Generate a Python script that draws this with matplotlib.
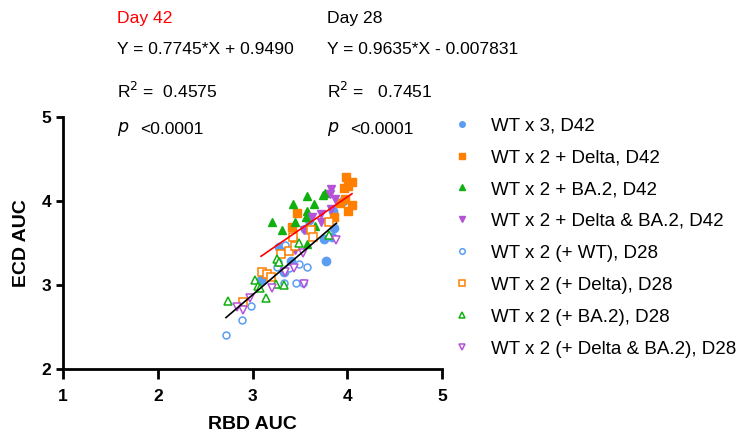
import numpy as np
import matplotlib
matplotlib.use('Agg')
import matplotlib.pyplot as plt
from matplotlib.lines import Line2D

plt.rcParams['font.family'] = ['Liberation Sans', 'DejaVu Sans']

# values (RBD AUC, ECD AUC)
wt3_d42_x = [3.09, 3.28, 3.33, 3.41, 3.55, 3.60, 3.75, 3.84, 3.85, 3.865, 3.78, 3.96]
wt3_d42_y = [3.06, 3.45, 3.16, 3.28, 3.67, 3.77, 3.55, 3.57, 3.88, 3.68, 3.28, 4.00]

delta_d42_x = [3.99, 4.05, 4.006, 3.963, 4.05, 4.006, 3.92, 3.98, 3.47, 3.42, 3.86]
delta_d42_y = [4.29, 4.23, 4.18, 4.15, 3.95, 3.88, 3.97, 4.02, 3.86, 3.69, 3.81]

ba2_d42_x = [3.206, 3.31, 3.43, 3.58, 3.65, 3.58, 3.445, 3.56, 3.66, 3.58, 3.76, 3.745]
ba2_d42_y = [3.754, 3.65, 3.96, 4.06, 3.96, 3.88, 3.754, 3.81, 3.70, 3.49, 4.10, 4.07]

dba_d42_x = [3.83, 3.82, 3.875, 3.63, 3.72, 3.72, 3.54, 3.43, 3.45, 3.83]
dba_d42_y = [4.14, 4.08, 4.02, 3.81, 3.85, 3.75, 3.66, 3.52, 3.42, 3.91]

wt_d28_x = [2.72, 2.89, 2.98, 3.26, 3.34, 3.39, 3.49, 3.58, 3.33, 3.46, 3.53, 3.27]
wt_d28_y = [2.41, 2.58, 2.75, 3.22, 3.48, 3.20, 3.25, 3.22, 3.03, 3.02, 3.02, 3.27]

delta_d28_x = [2.90, 3.10, 3.15, 3.20, 3.30, 3.39, 3.445, 3.43, 3.62, 3.64, 3.81]
delta_d28_y = [2.80, 3.15, 3.13, 3.10, 3.37, 3.40, 3.46, 3.57, 3.65, 3.57, 3.75]

ba2_d28_x = [2.74, 3.03, 3.06, 3.08, 3.14, 3.25, 3.26, 3.28, 3.33, 3.49, 3.81]
ba2_d28_y = [2.81, 3.06, 2.99, 2.97, 2.85, 3.01, 3.31, 3.27, 3.00, 3.50, 3.60]

dba_d28_x = [2.84, 2.90, 2.97, 3.21, 3.34, 3.44, 3.54, 3.885, 3.53]
dba_d28_y = [2.74, 2.70, 2.85, 2.97, 3.16, 3.20, 3.01, 3.54, 3.38]

labels = ['WT x 3, D42', 'WT x 2 + Delta, D42', 'WT x 2 + BA.2, D42',
          'WT x 2 + Delta & BA.2, D42', 'WT x 2 (+ WT), D28',
          'WT x 2 (+ Delta), D28', 'WT x 2 (+ BA.2), D28',
          'WT x 2 (+ Delta & BA.2), D28']

# fits (from the chart annotations)
slope42, icpt42 = 0.7745, 0.9490
slope28, icpt28 = 0.9635, -0.007831

blue = '#5b9df2'
orange = '#ff7f00'
green = '#10b010'
purple = '#b553d8'

fig = plt.figure(figsize=(7.46, 4.41), dpi=100)
ax = fig.add_axes([0.0845, 0.163, 0.508, 0.572])

groups = [
    (wt3_d42_x, wt3_d42_y, 'o', blue, True, 6),
    (delta_d42_x, delta_d42_y, 's', orange, True, 6),
    (ba2_d42_x, ba2_d42_y, '^', green, True, 6),
    (dba_d42_x, dba_d42_y, 'v', purple, True, 6),
    (wt_d28_x, wt_d28_y, 'o', blue, False, 5),
    (delta_d28_x, delta_d28_y, 's', orange, False, 5.5),
    (ba2_d28_x, ba2_d28_y, '^', green, False, 5.5),
    (dba_d28_x, dba_d28_y, 'v', purple, False, 5.5),
]

handles = []
for (x, y, m, c, filled, ms), lab in zip(groups, labels):
    if filled:
        ax.plot(x, y, ls='none', marker=m, ms=ms, color=c, mec=c, zorder=3)
        h = Line2D([], [], ls='none', marker=m, ms=4, color=c, mec=c)
    else:
        ax.plot(x, y, ls='none', marker=m, ms=ms, mfc='white', mec=c, mew=1.1, zorder=3)
        h = Line2D([], [], ls='none', marker=m, ms=4, mfc='white', mec=c, mew=1.1)
    handles.append(h)

# regression lines over the range of each day's data
x42 = np.array(wt3_d42_x + delta_d42_x + ba2_d42_x + dba_d42_x)
x28 = np.array(wt_d28_x + delta_d28_x + ba2_d28_x + dba_d28_x)
xx42 = np.array([x42.min(), x42.max()])
xx28 = np.array([x28.min(), x28.max()])
ax.plot(xx42, slope42 * xx42 + icpt42, color='red', lw=1.2, zorder=4)
ax.plot(xx28, slope28 * xx28 + icpt28, color='black', lw=1.2, zorder=4)

ax.set_xlim(1, 5)
ax.set_ylim(2, 5)
ax.set_xticks([1, 2, 3, 4, 5])
ax.set_yticks([2, 3, 4, 5])
for s in ['top', 'right']:
    ax.spines[s].set_visible(False)
for s in ['left', 'bottom']:
    ax.spines[s].set_linewidth(2)
ax.tick_params(width=2, length=5, labelsize=12.5)
ax.tick_params(axis='x', length=7, pad=7)
for t in ax.get_xticklabels() + ax.get_yticklabels():
    t.set_fontweight('bold')
ax.set_xlabel('RBD AUC', fontsize=14, fontweight='bold', labelpad=9)
ax.set_ylabel('ECD AUC', fontsize=14, fontweight='bold', labelpad=8)

fs = 12.6
fig.text(117 / 746, 1 - 19 / 441, 'Day 42', color='red', fontsize=fs, va='center')
fig.text(117 / 746, 1 - 49 / 441, 'Y = 0.7745*X + 0.9490', fontsize=fs, va='center')
fig.text(117 / 746, 1 - 91 / 441, r'R$^2$ =  0.4575', fontsize=fs, va='center')
fig.text(117 / 746, 1 - 129 / 441, r'$p$', fontsize=fs, va='center')
fig.text(140 / 746, 1 - 129 / 441, '<0.0001', fontsize=fs, va='center')

fig.text(327 / 746, 1 - 19 / 441, 'Day 28', color='black', fontsize=fs, va='center')
fig.text(327 / 746, 1 - 49 / 441, 'Y = 0.9635*X - 0.007831', fontsize=fs, va='center')
fig.text(327 / 746, 1 - 91 / 441, r'R$^2$ =   0.7451', fontsize=fs, va='center')
fig.text(327 / 746, 1 - 129 / 441, r'$p$', fontsize=fs, va='center')
fig.text(350 / 746, 1 - 129 / 441, '<0.0001', fontsize=fs, va='center')

fig.legend(handles, labels, loc='upper left', bbox_to_anchor=(453 / 746, 1 - 117 / 441),
           frameon=False, fontsize=13.5, handlelength=1.0, handletextpad=1.03,
           labelspacing=0.79, borderpad=0, borderaxespad=0)

fig.savefig('out.png', dpi=100)
